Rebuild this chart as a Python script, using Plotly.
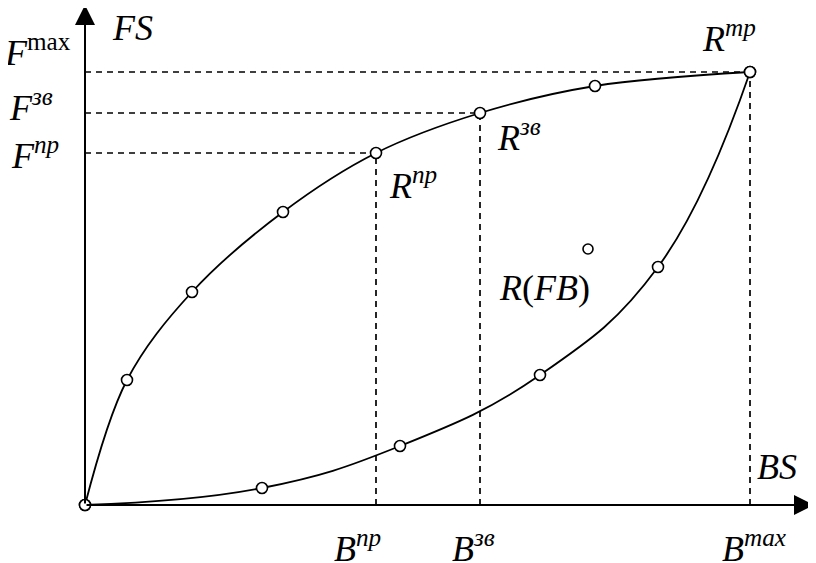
import plotly.graph_objects as go

# upper curve (concave) and lower curve (convex), in pixel-like units from the origin
upper_x = [0, 42, 107, 198, 291, 395, 510, 665]
upper_y = [0, 125, 213, 293, 352, 392, 419, 433]
lower_x = [0, 177, 315, 455, 573, 665]
lower_y = [0, 17, 59, 130, 238, 433]
# isolated point R(FB)
fb_x = [503]
fb_y = [256]

# characteristic points: пр, зв, max (indices in the upper curve)
b_np, f_np = upper_x[4], upper_y[4]
b_zv, f_zv = upper_x[5], upper_y[5]
b_max, f_max = upper_x[7], upper_y[7]

fig = go.Figure()

# dashed guide lines
dash = dict(color="black", width=1.7, dash="6px,5px")
for bx, fy in [(b_np, f_np), (b_zv, f_zv), (b_max, f_max)]:
    fig.add_trace(go.Scatter(x=[0, bx], y=[fy, fy], mode="lines", line=dash, hoverinfo="skip"))
    fig.add_trace(go.Scatter(x=[bx, bx], y=[0, fy], mode="lines", line=dash, hoverinfo="skip"))

marker = dict(symbol="circle", size=11, color="white", line=dict(color="black", width=1.6))
fig.add_trace(go.Scatter(x=upper_x, y=upper_y, mode="lines+markers",
                         line=dict(color="black", width=1.8, shape="spline", smoothing=1.0),
                         marker=marker))
fig.add_trace(go.Scatter(x=lower_x, y=lower_y, mode="lines+markers",
                         line=dict(color="black", width=1.8, shape="spline", smoothing=1.2),
                         marker=marker))
fig.add_trace(go.Scatter(x=fb_x, y=fb_y, mode="markers", marker=dict(marker, size=10)))

# axes with arrows
axis_arrow = dict(text="", showarrow=True, arrowhead=2, arrowsize=2.0, arrowwidth=2,
                  arrowcolor="black", xref="x", yref="y", axref="x", ayref="y",
                  ax=0, ay=0, standoff=0, startstandoff=0)
fig.add_annotation(axis_arrow, x=729, y=0)
fig.add_annotation(axis_arrow, x=0, y=500)

font = dict(family="Liberation Serif", size=36, color="black")
# (text, x, y, anchor)
labels = [
    ("<i>FS</i>", 25, 477, "left"),
    ("<i>F</i><sup>max</sup>", -12, 455, "right"),
    ("<i>F<sup>зв</sup></i>", -30, 400, "right"),
    ("<i>F<sup>пр</sup></i>", -24, 352, "right"),
    ("<i>R<sup>пр</sup></i>", 302, 322, "left"),
    ("<i>R<sup>зв</sup></i>", 410, 370, "left"),
    ("<i>R<sup>тр</sup></i>", 615, 469, "left"),
    ("<i>R</i>(<i>FB</i>)", 412, 217, "left"),
    ("<i>BS</i>", 670, 38, "left"),
    ("<i>B<sup>пр</sup></i>", 247, -41, "left"),
    ("<i>B<sup>зв</sup></i>", 365, -41, "left"),
    ("<i>B<sup>max</sup></i>", 635, -41, "left"),
]
for txt, lx, ly, anchor in labels:
    fig.add_annotation(text=txt, x=lx, y=ly, xref="x", yref="y", xanchor=anchor,
                       yanchor="middle", showarrow=False, font=font)

# the page puts the figure 8px in from its top-left corner; shift ranges to compensate
fig.update_layout(
    width=816, height=563,
    margin=dict(l=0, r=0, t=0, b=0),
    paper_bgcolor="white", plot_bgcolor="white",
    showlegend=False,
    xaxis=dict(range=[-77, 739], visible=False, fixedrange=True),
    yaxis=dict(range=[-66, 497], visible=False, fixedrange=True),
)

fig.write_html("out.html")
